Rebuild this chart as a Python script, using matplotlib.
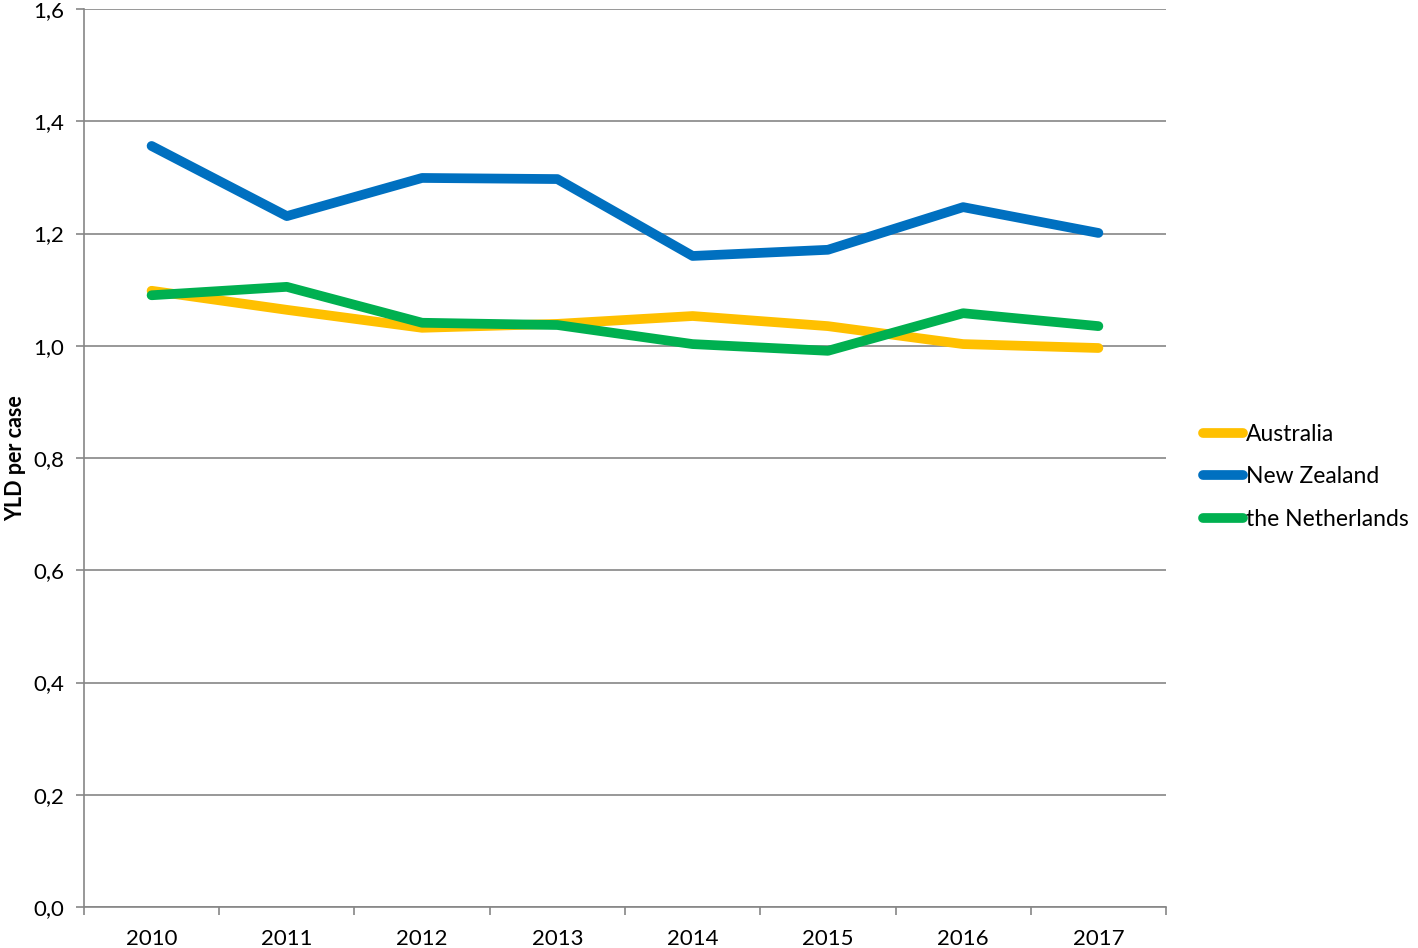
import numpy as np
import matplotlib.pyplot as plt
from matplotlib.lines import Line2D

plt.rcParams['font.family'] = ['Lato', 'DejaVu Sans']

years = ['2010', '2011', '2012', '2013', '2014', '2015', '2016', '2017']
australia = [1.098, 1.064, 1.032, 1.039, 1.053, 1.035, 1.003, 0.996]
new_zealand = [1.356, 1.231, 1.299, 1.297, 1.160, 1.171, 1.247, 1.201]
netherlands = [1.090, 1.105, 1.041, 1.037, 1.003, 0.991, 1.058, 1.035]

series = [('Australia', australia, '#FFC000'),
          ('New Zealand', new_zealand, '#0070C0'),
          ('the Netherlands', netherlands, '#00B050')]

fig = plt.figure(figsize=(14.18, 9.48), dpi=100)
ax = fig.add_axes([0.0592, 0.0432, 0.7631, 0.9473])

x = np.arange(len(years))
for name, vals, col in series:
    ax.plot(x, vals, color=col, lw=7, solid_capstyle='round', label=name, zorder=3)

ax.set_xlim(-0.5, len(years) - 0.5)
ax.set_ylim(0, 1.6)
yt = np.arange(0, 1.61, 0.2)
ax.set_yticks(yt)
ax.set_yticklabels([f'{v:.1f}'.replace('.', ',') for v in yt], fontsize=16)
ax.set_xticks(x)
ax.set_xticklabels(years, fontsize=16)
ax.set_xticks(np.arange(-0.5, len(years), 1), minor=True)
ax.tick_params(axis='x', which='major', length=0, pad=16)
ax.tick_params(axis='x', which='minor', length=6, color='#868686', width=1.2)
ax.tick_params(axis='y', length=6, color='#868686', width=1.2, pad=8)
ax.grid(axis='y', color='#868686', lw=1.2, zorder=0)

for s in ['top', 'right']:
    ax.spines[s].set_visible(False)
for s in ['left', 'bottom']:
    ax.spines[s].set_color('#868686')
    ax.spines[s].set_linewidth(1.2)

ax.set_ylabel('YLD per case', fontsize=15.5, fontweight='bold', labelpad=5)

handles = [Line2D([0], [0], color=c, lw=7, solid_capstyle='round') for _, _, c in series]
fig.legend(handles, [n for n, _, _ in series], loc='center left',
           bbox_to_anchor=(0.834, 0.497), frameon=False, fontsize=16.5,
           handlelength=1.75, handletextpad=0.12, labelspacing=0.95)

fig.savefig('out.png', dpi=100)
